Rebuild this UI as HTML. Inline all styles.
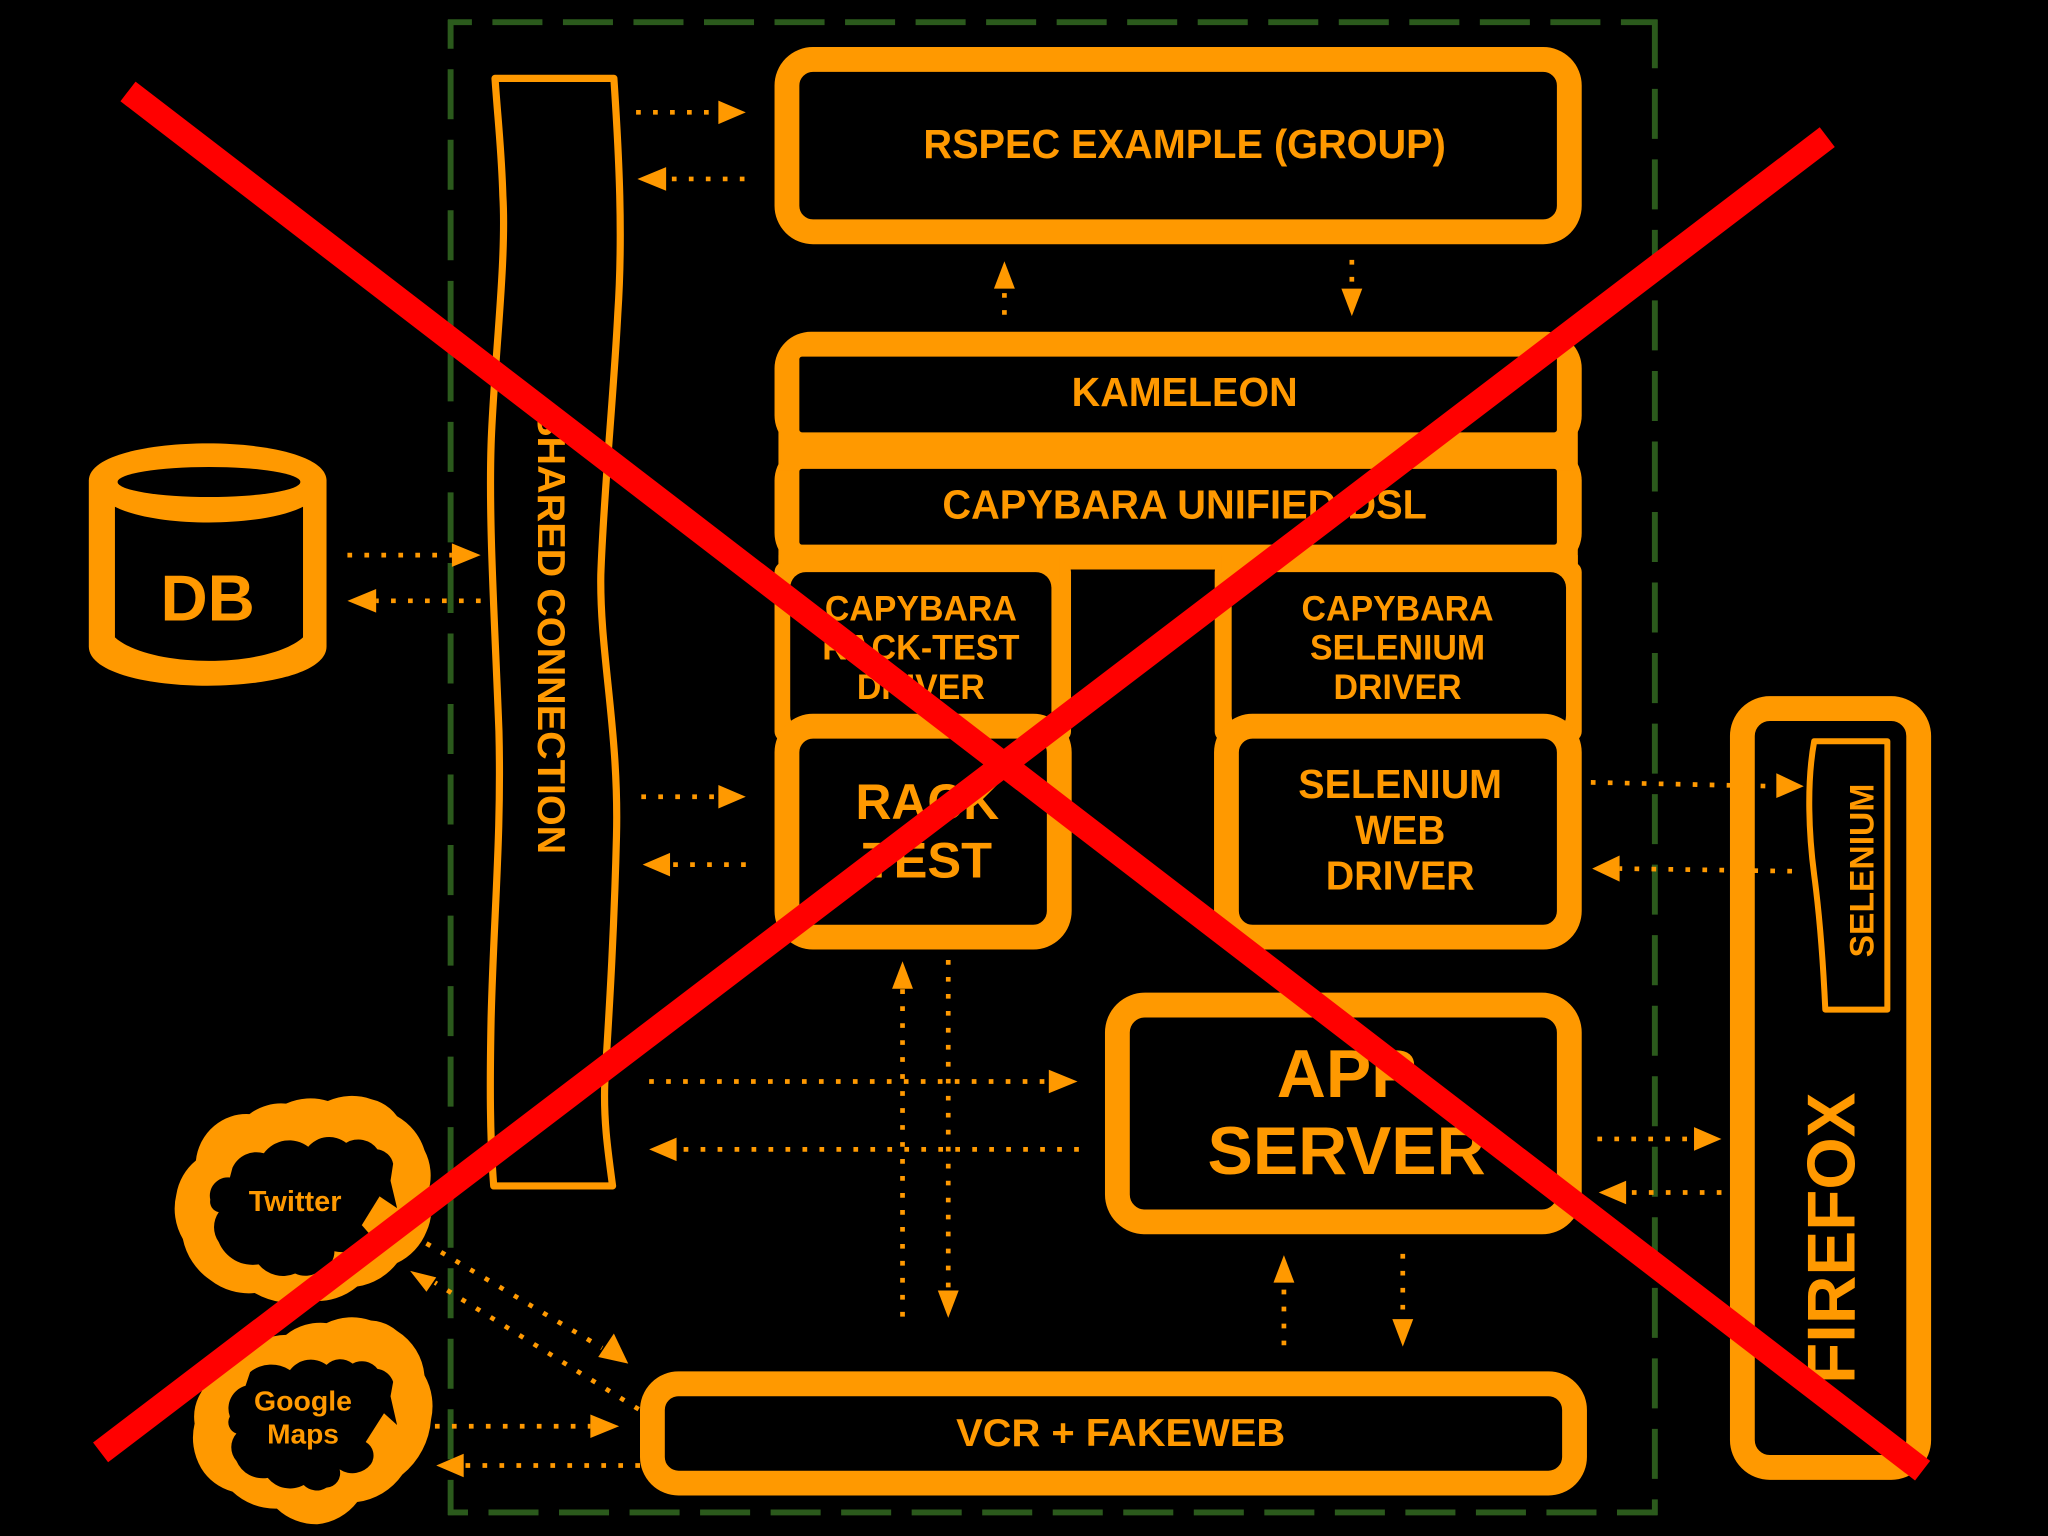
<!DOCTYPE html>
<html><head><meta charset="utf-8"><style>
html,body{margin:0;padding:0;background:#000;width:2048px;height:1536px;overflow:hidden}
svg{display:block}
text{font-family:"Liberation Sans",sans-serif;font-weight:bold;fill:#ff9900;text-anchor:middle}
.b{fill:#000;stroke:#ff9900;stroke-width:19}
.d{stroke:#ff9900;stroke-width:3.6;stroke-dasharray:3.6 9.4;fill:none}
.h,.o{fill:#ff9900}
.g{fill:none;stroke:#2b5a1c;stroke-width:4.5;stroke-dasharray:38.3 15.7}
</style></head><body>
<svg width="2048" height="1536" viewBox="0 0 1568 1176" xmlns="http://www.w3.org/2000/svg">
<rect width="1568" height="1176" fill="#000"/>
<path class="g" d="M343,17 H1269" stroke-dashoffset="20"/>
<path class="g" d="M345,15 V1160" stroke-dashoffset="16"/>
<path class="g" d="M343,1158 H1269" stroke-dashoffset="23"/>
<path class="g" d="M1267,15 V1160" stroke-dashoffset="1"/>

<!-- shared connection -->
<path d="M379,60 H470 C474,120 477,180 473,240 C470,300 462,380 460,440 C459,500 474,560 472,640 C470,720 466,780 463,830 C462,860 466,885 469,908 H378 C375,870 375,830 376,780 C378,700 384,640 382,560 C379,480 374,400 376,340 C378,280 388,200 385,150 C384,115 381,90 379,60 Z" fill="none" stroke="#ff9900" stroke-width="5.5" stroke-linejoin="round"/>
<text transform="translate(412,484) rotate(90)" font-size="30" textLength="340" lengthAdjust="spacingAndGlyphs">SHARED CONNECTION</text>

<!-- main boxes -->
<rect class="b" x="602.5" y="45.5" width="599" height="132" rx="20"/>
<rect class="o" x="593" y="254" width="618" height="92" rx="28"/>
<rect class="o" x="593" y="340" width="618" height="96" rx="28"/>
<rect class="o" x="596" y="325" width="612" height="35"/>
<rect class="o" x="596" y="415" width="612" height="21"/>
<rect x="612" y="273" width="580" height="58" rx="2" fill="#000"/>
<rect x="612" y="359" width="580" height="58" rx="2" fill="#000"/>
<rect class="o" x="593" y="430" width="227" height="138" rx="8"/>
<rect class="o" x="930" y="430" width="281" height="138" rx="8"/>
<rect class="o" x="596" y="425" width="215" height="20"/>
<rect class="o" x="935" y="425" width="273" height="20"/>
<rect x="605" y="438" width="200" height="122" rx="12" fill="#000"/>
<rect x="943" y="438" width="256" height="122" rx="12" fill="#000"/>
<rect class="b" x="602.5" y="556" width="208.5" height="161.5" rx="20"/>
<rect class="b" x="939" y="556" width="262.5" height="161.5" rx="20"/>
<rect class="b" x="855.5" y="769.5" width="346" height="166" rx="21"/>
<rect class="b" x="499.5" y="1059.5" width="706" height="76" rx="20"/>
<rect class="b" x="1334" y="542.5" width="135" height="581" rx="21"/>

<!-- selenium plugin -->
<path d="M1389,567.5 H1445 V773 H1397.5 C1396,740 1393,700 1389,670 C1385,640 1383,600 1389,567.5 Z" fill="none" stroke="#ff9900" stroke-width="4.6" stroke-linejoin="round"/>
<text transform="translate(1434.5,666.5) rotate(-90)" font-size="26" textLength="133" lengthAdjust="spacingAndGlyphs">SELENIUM</text>
<text transform="translate(1420,948) rotate(-90)" font-size="52" textLength="223" lengthAdjust="spacingAndGlyphs">FIREFOX</text>

<!-- DB -->
<path d="M68,368 C68,330 250,330 250,368 V495 C250,535 68,535 68,495 Z" fill="#ff9900"/>
<ellipse cx="160" cy="369" rx="70" ry="11.5" fill="#000"/>
<path d="M88,388 C120,404 200,404 232,388 V488 C205,512 115,512 88,488 Z" fill="#000"/>
<text x="159" y="475" font-size="50">DB</text>

<!-- labels -->
<text x="907" y="121" font-size="31" textLength="400" lengthAdjust="spacingAndGlyphs">RSPEC EXAMPLE (GROUP)</text>
<text x="907" y="311" font-size="31" textLength="173" lengthAdjust="spacingAndGlyphs">KAMELEON</text>
<text x="907" y="397" font-size="31" textLength="371" lengthAdjust="spacingAndGlyphs">CAPYBARA UNIFIED DSL</text>
<text x="705" y="475" font-size="27" textLength="147" lengthAdjust="spacingAndGlyphs">CAPYBARA</text>
<text x="705" y="505" font-size="27" textLength="151" lengthAdjust="spacingAndGlyphs">RACK-TEST</text>
<text x="705" y="535" font-size="27" textLength="98" lengthAdjust="spacingAndGlyphs">DRIVER</text>
<text x="1070" y="475" font-size="27" textLength="147" lengthAdjust="spacingAndGlyphs">CAPYBARA</text>
<text x="1070" y="505" font-size="27" textLength="134" lengthAdjust="spacingAndGlyphs">SELENIUM</text>
<text x="1070" y="535" font-size="27" textLength="98" lengthAdjust="spacingAndGlyphs">DRIVER</text>
<text x="710" y="627" font-size="38" textLength="110" lengthAdjust="spacingAndGlyphs">RACK</text>
<text x="710" y="672" font-size="38" textLength="99" lengthAdjust="spacingAndGlyphs">TEST</text>
<text x="1072" y="611" font-size="31" textLength="156" lengthAdjust="spacingAndGlyphs">SELENIUM</text>
<text x="1072" y="646" font-size="31" textLength="69" lengthAdjust="spacingAndGlyphs">WEB</text>
<text x="1072" y="681" font-size="31" textLength="114" lengthAdjust="spacingAndGlyphs">DRIVER</text>
<text x="1031" y="840" font-size="52" textLength="107" lengthAdjust="spacingAndGlyphs">APP</text>
<text x="1031" y="899" font-size="52" textLength="213" lengthAdjust="spacingAndGlyphs">SERVER</text>
<text x="858" y="1107" font-size="30" textLength="252" lengthAdjust="spacingAndGlyphs">VCR + FAKEWEB</text>

<!-- clouds -->
<path class="o" d="M219,845 A45,45 0 0 1 251,843 A45,45 0 0 1 284,841.5 A34,34 0 0 1 304,854.6 A45,45 0 0 1 325,880.7 A42,42 0 0 1 328,912 A42,42 0 0 1 326.5,943 A45,45 0 0 1 304,967 A48,48 0 0 1 273.5,985 A48,48 0 0 1 239,996 A60,60 0 0 1 195,990 A48,48 0 0 1 161,980 A50,50 0 0 1 140,948.6 A46,46 0 0 1 135,914.6 A42,42 0 0 1 150,888.5 A40,40 0 0 1 164,862 A38,38 0 0 1 191,853 A40,40 0 0 1 219,845 Z"/>
<path fill="#000" d="M178,894 A20,20 0 0 1 202,883 A24,24 0 0 1 236,878 A21,21 0 0 1 265,875 A18,18 0 0 1 289,880 A14,14 0 0 1 301,891 L299,904 L304,925 L277,938 L284,946 A26,26 0 0 1 256,958 A14,14 0 0 1 246,972 A18,18 0 0 1 226,975 A24,24 0 0 1 198,968 A28,28 0 0 1 167.5,951 A20,20 0 0 1 167.5,928 A8,8 0 0 1 161,918.6 A14,14 0 0 1 176,901.5 Z"/>
<path class="o" d="M290.6,916 L304,925 L292,946 L277,938 Z"/>
<path class="o" d="M284,1011 A34,34 0 0 1 304,1019 A45,45 0 0 1 325,1053 A48,48 0 0 1 330,1087 A60,60 0 0 1 308,1129 A50,50 0 0 1 273.5,1150 A44,44 0 0 1 243,1167 A44,44 0 0 1 212,1155 A48,48 0 0 1 178,1142 A40,40 0 0 1 154,1124 A46,46 0 0 1 149,1090 A36,36 0 0 1 154,1066 A52,52 0 0 1 185,1037 A48,48 0 0 1 219,1022 A42,42 0 0 1 250,1013 A44,44 0 0 1 284,1011 Z"/>
<path fill="#000" d="M191.5,1050.5 A26,26 0 0 1 222,1049 A20,20 0 0 1 250,1045 A15,15 0 0 1 270,1044 A15,15 0 0 1 289,1048 A15,15 0 0 1 301,1058 L299,1069 L304,1091 L294,1082 L280,1104 A12,12 0 0 1 284,1121 A18,18 0 0 1 260,1125 A11,11 0 0 1 250,1139 A14,14 0 0 1 232.5,1137 A22,22 0 0 1 205,1131.5 A22,22 0 0 1 181,1118.5 A16,16 0 0 1 181,1097.5 A9,9 0 0 1 176,1084.5 A18,18 0 0 1 188,1061 Z"/>
<text x="226" y="927" font-size="22" textLength="71" lengthAdjust="spacingAndGlyphs">Twitter</text>
<text x="232" y="1080" font-size="21" textLength="75" lengthAdjust="spacingAndGlyphs">Google</text>
<text x="232" y="1105" font-size="21" textLength="55" lengthAdjust="spacingAndGlyphs">Maps</text>

<!-- connectors -->
<path class="d" d="M487,86 H550"/><path class="h" d="M550,77 L571,86 L550,95 Z"/>
<path class="d" d="M570,137 H510"/><path class="h" d="M510,128 L488,137 L510,146 Z"/>
<path class="d" d="M769,241 V222"/><path class="h" d="M761,221 L769,200 L777,221 Z"/>
<path class="d" d="M1035,199 V222"/><path class="h" d="M1027,221 L1035,242 L1043,221 Z"/>
<path class="d" d="M266,425 H346"/><path class="h" d="M346,416 L368,425 L346,434 Z"/>
<path class="d" d="M368,460 H288"/><path class="h" d="M288,451 L266,460 L288,469 Z"/>
<path class="d" d="M491,610 H550"/><path class="h" d="M550,601 L571,610 L550,619 Z"/>
<path class="d" d="M571,662 H513"/><path class="h" d="M513,653 L492,662 L513,671 Z"/>
<path class="d" d="M1218,599 L1360,602"/><path class="h" d="M1360,592 L1381,602 L1360,611 Z"/>
<path class="d" d="M1372,667 L1240,665"/><path class="h" d="M1240,655 L1219,665 L1240,675 Z"/>
<path class="d" d="M691,1008 V757"/><path class="h" d="M683,757 L691,736 L699,757 Z"/>
<path class="d" d="M726,735 V988"/><path class="h" d="M718,988 L726,1009 L734,988 Z"/>
<path class="d" d="M497,828 H803"/><path class="h" d="M803,819 L825,828 L803,837 Z"/>
<path class="d" d="M826,880 H518"/><path class="h" d="M518,871 L497,880 L518,889 Z"/>
<path class="d" d="M1223,872 H1297"/><path class="h" d="M1297,863 L1318,872 L1297,881 Z"/>
<path class="d" d="M1318,913 H1245"/><path class="h" d="M1245,904 L1224,913 L1245,922 Z"/>
<path class="d" d="M983,1030 V982"/><path class="h" d="M975,982 L983,961 L991,982 Z"/>
<path class="d" d="M1074,960 V1010"/><path class="h" d="M1066,1010 L1074,1031 L1082,1010 Z"/>
<path class="d" d="M326.5,952 L461,1032"/><path class="h" d="M470,1021 L481,1044 L458,1039 Z"/>
<path class="d" d="M489,1079 L333,982"/><path class="h" d="M326.5,989 L314,973 L334,978 Z"/>
<path class="d" d="M333,1092 H452"/><path class="h" d="M452,1083 L474,1092 L452,1101 Z"/>
<path class="d" d="M490,1122 H355"/><path class="h" d="M355,1113 L334,1122 L355,1131 Z"/>

<!-- red X -->
<line x1="98" y1="70" x2="1472" y2="1126" stroke="#ff0000" stroke-width="19"/>
<line x1="77" y1="1112" x2="1399" y2="105" stroke="#ff0000" stroke-width="19"/>
</svg>
</body></html>
